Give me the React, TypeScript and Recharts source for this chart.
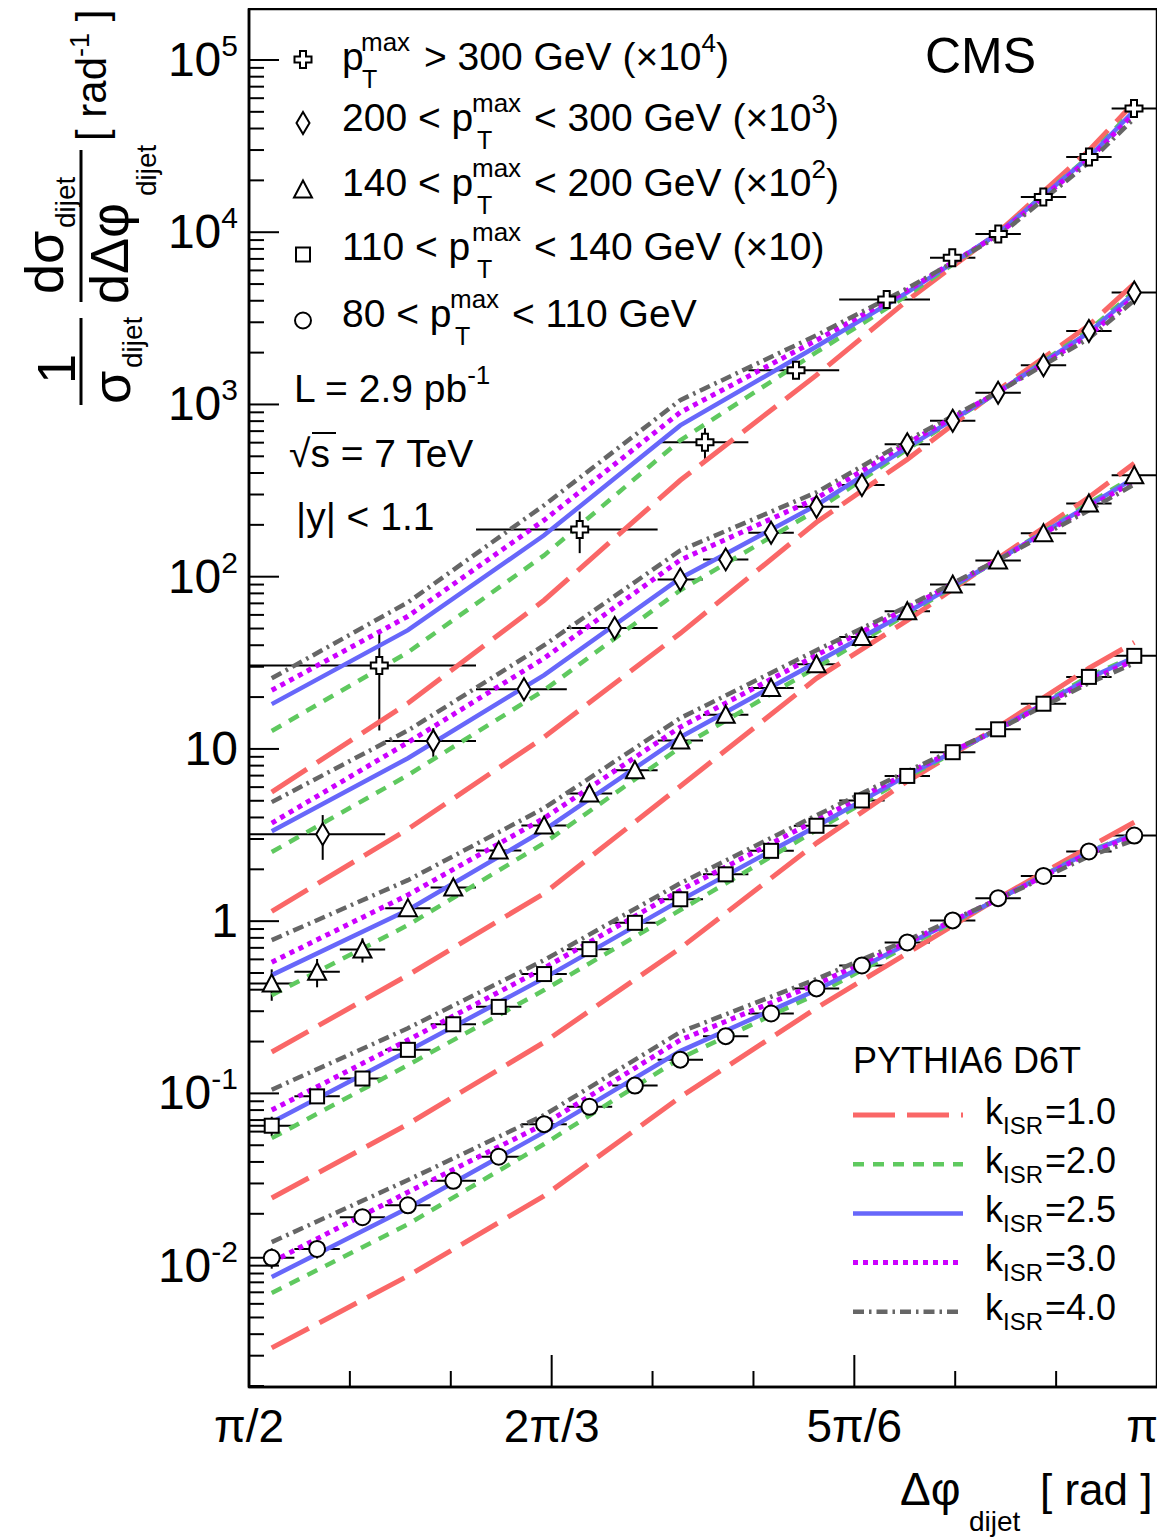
import React from "react";
import { ComposedChart, Scatter, XAxis, YAxis, ErrorBar, ReferenceArea } from "recharts";

const FONT = "'Liberation Sans', Arial, Helvetica, sans-serif";

// Δφ grid (rad): pi/2 .. pi in 20 bins of pi/40
const BIN_EDGES = [
  1.5708, 1.6493, 1.7279, 1.8064, 1.885, 1.9635, 2.042, 2.1206, 2.1991, 2.2777, 2.3562,
  2.4347, 2.5133, 2.5918, 2.6704, 2.7489, 2.8274, 2.906, 2.9845, 3.0631, 3.1416,
];
const BIN_CENTERS = [
  1.6101, 1.6886, 1.7671, 1.8457, 1.9242, 2.0028, 2.0813, 2.1598, 2.2384, 2.3169,
  2.3955, 2.474, 2.5525, 2.6311, 2.7096, 2.7882, 2.8667, 2.9452, 3.0238, 3.1023,
];
const PHI_TICKS = [1.5708, 1.7453, 1.9199, 2.0944, 2.2689, 2.4435, 2.618, 2.7925, 2.9671, 3.1416];
const PHI_LABELS = ["π/2", "", "", "2π/3", "", "", "5π/6", "", "", "π"];

const Y_MIN = 0.001974;
const Y_MAX = 197700;
const Y_MAJOR = [0.01, 0.1, 1, 10, 100, 1000, 10000, 100000];
const Y_LABEL_BASE = ["10", "10", "1", "10", "10", "10", "10", "10"];
const Y_LABEL_EXP = ["-2", "-1", "", "", "2", "3", "4", "5"];

// measured 1/σ dσ/dΔφ (unscaled)
const PT300_PHI = [1.7962, 2.1429, 2.3596, 2.5171, 2.674, 2.7874, 2.867, 2.9449, 3.0239, 3.1018];
const PT300_LO = [1.5708, 1.9635, 2.2777, 2.4347, 2.5918, 2.7489, 2.8274, 2.906, 2.9845, 3.0631];
const PT300_HI = [1.9635, 2.2777, 2.4347, 2.5918, 2.7489, 2.8274, 2.906, 2.9845, 3.0631, 3.1416];
const PT300_Y = [0.00305, 0.0188, 0.0603, 0.158, 0.407, 0.711, 0.975, 1.6, 2.73, 5.23];
const PT300_ERR = [0.00177, 0.0051, 0.0125, 0.006, 0.012, 0.015, 0.02, 0.03, 0.05, 0.08];

const PT200_PHI = [
  1.6983, 1.8896, 2.0465, 2.2034, 2.3169, 2.3955, 2.474, 2.5525, 2.6311, 2.7096, 2.7882,
  2.8667, 2.9452, 3.0238, 3.1023,
];
const PT200_LO = [
  1.5708, 1.8064, 1.9635, 2.1206, 2.2777, 2.3562, 2.4347, 2.5133, 2.5918, 2.6704, 2.7489,
  2.8274, 2.906, 2.9845, 3.0631,
];
const PT200_HI = [
  1.8064, 1.9635, 2.1206, 2.2777, 2.3562, 2.4347, 2.5133, 2.5918, 2.6704, 2.7489, 2.8274,
  2.906, 2.9845, 3.0631, 3.1416,
];
const PT200_Y = [
  0.0032, 0.0111, 0.0222, 0.0504, 0.0962, 0.126, 0.18, 0.255, 0.341, 0.587, 0.805, 1.17,
  1.69, 2.67, 4.47,
];
const PT200_ERR = [
  0.00093, 0.0021, 0.0015, 0.002, 0.003, 0.003, 0.004, 0.005, 0.006, 0.008, 0.01, 0.013,
  0.018, 0.025, 0.04,
];

const PT140_Y = [
  0.00435, 0.00508, 0.00685, 0.0119, 0.0157, 0.0257, 0.0359, 0.0551, 0.0752, 0.112, 0.158,
  0.226, 0.31, 0.447, 0.63, 0.9, 1.24, 1.79, 2.66, 3.88,
];
const PT140_ERR = [
  0.0009, 0.00095, 0.0011, 0.0008, 0.0009, 0.0012, 0.0015, 0.002, 0.0025, 0.003, 0.004,
  0.005, 0.006, 0.008, 0.01, 0.013, 0.016, 0.02, 0.03, 0.04,
];

const PT110_Y = [
  0.00649, 0.00961, 0.0122, 0.0179, 0.0252, 0.0318, 0.0493, 0.0688, 0.0978, 0.134, 0.187,
  0.256, 0.358, 0.502, 0.697, 0.957, 1.3, 1.83, 2.62, 3.47,
];
const PT110_ERR = [
  0.00083, 0.0006, 0.0006, 0.0008, 0.001, 0.0012, 0.0015, 0.002, 0.0025, 0.003, 0.004,
  0.005, 0.006, 0.008, 0.01, 0.012, 0.015, 0.02, 0.025, 0.03,
];

const PT80_Y = [
  0.0111, 0.0125, 0.0191, 0.0224, 0.0311, 0.0429, 0.0663, 0.0836, 0.111, 0.157, 0.215,
  0.291, 0.407, 0.553, 0.752, 1.01, 1.36, 1.83, 2.54, 3.14,
];
const PT80_ERR = [
  0.0015, 0.0015, 0.0012, 0.0012, 0.0012, 0.0015, 0.002, 0.002, 0.002, 0.003, 0.003,
  0.004, 0.005, 0.006, 0.007, 0.008, 0.01, 0.012, 0.015, 0.02,
];

// PYTHIA6 D6T predictions, rows: kISR = 1.0, 2.0, 2.5, 3.0, 4.0
const CURVE_PHI = [1.6101, 1.8457, 2.0813, 2.3169, 2.5525, 2.7096, 2.8667, 3.0238, 3.1023];
const MC_PT300 = [
  [0.000561, 0.00184, 0.0073, 0.0363, 0.148, 0.402, 0.997, 2.98, 5.67],
  [0.00127, 0.00364, 0.0133, 0.0619, 0.201, 0.43, 0.984, 2.75, 5.23],
  [0.00182, 0.00489, 0.0174, 0.0756, 0.217, 0.447, 0.984, 2.72, 5.09],
  [0.00219, 0.00589, 0.0213, 0.09, 0.236, 0.46, 0.971, 2.65, 4.89],
  [0.00257, 0.0071, 0.026, 0.106, 0.252, 0.472, 0.945, 2.54, 4.58],
];
const MC_PT200 = [
  [0.00114, 0.00342, 0.0117, 0.0469, 0.207, 0.48, 1.21, 2.88, 5.04],
  [0.00252, 0.00704, 0.0219, 0.0834, 0.243, 0.549, 1.18, 2.69, 4.53],
  [0.00333, 0.00883, 0.0268, 0.0979, 0.26, 0.564, 1.18, 2.62, 4.41],
  [0.00371, 0.0109, 0.0336, 0.125, 0.285, 0.595, 1.18, 2.52, 4.18],
  [0.00491, 0.0128, 0.04, 0.142, 0.309, 0.619, 1.18, 2.42, 4.02],
];
const MC_PT140 = [
  [0.00174, 0.00486, 0.0145, 0.0607, 0.257, 0.558, 1.28, 2.89, 4.55],
  [0.00372, 0.00948, 0.0284, 0.102, 0.298, 0.605, 1.25, 2.67, 3.83],
  [0.00486, 0.0116, 0.0338, 0.117, 0.319, 0.621, 1.25, 2.6, 3.73],
  [0.00578, 0.0142, 0.0396, 0.134, 0.35, 0.656, 1.25, 2.53, 3.58],
  [0.00776, 0.0173, 0.0453, 0.151, 0.374, 0.673, 1.25, 2.43, 3.44],
];
const MC_PT110 = [
  [0.00247, 0.00663, 0.0198, 0.0697, 0.284, 0.649, 1.34, 2.94, 4.16],
  [0.0055, 0.0146, 0.0398, 0.116, 0.338, 0.685, 1.3, 2.64, 3.45],
  [0.00681, 0.0176, 0.0467, 0.132, 0.356, 0.704, 1.3, 2.57, 3.41],
  [0.008, 0.0204, 0.0534, 0.151, 0.386, 0.723, 1.3, 2.5, 3.27],
  [0.0105, 0.0239, 0.0594, 0.166, 0.412, 0.742, 1.3, 2.41, 3.14],
];
const MC_PT80 = [
  [0.00333, 0.00871, 0.0254, 0.0952, 0.313, 0.652, 1.36, 2.69, 3.75],
  [0.00693, 0.0174, 0.0508, 0.16, 0.377, 0.716, 1.34, 2.55, 3.2],
  [0.00859, 0.0216, 0.0596, 0.176, 0.398, 0.736, 1.34, 2.52, 3.2],
  [0.0105, 0.0267, 0.0663, 0.204, 0.431, 0.755, 1.34, 2.48, 3.11],
  [0.0137, 0.0314, 0.0748, 0.227, 0.461, 0.776, 1.34, 2.38, 2.95],
];

const K_ISR = ["1.0", "2.0", "2.5", "3.0", "4.0"];
const MC_COLORS = ["#fa6767", "#5fc95f", "#6767fa", "#cc00ff", "#666666"];
const MC_DASH = ["42 12", "11 9", "", "5 5", "11 5 2.5 5"];
const MC_WIDTH = [5, 4.5, 4.5, 5, 4.5];

type Kind = "cross" | "diamond" | "triangle" | "square" | "circle";

function Marker({ kind, cx, cy }: { kind: Kind; cx: number; cy: number }) {
  const st = { fill: "#fff", stroke: "#000", strokeWidth: 2 };
  if (kind === "circle") return <circle cx={cx} cy={cy} r={8} {...st} />;
  if (kind === "square") return <rect x={cx - 7} y={cy - 7} width={14} height={14} {...st} />;
  if (kind === "triangle")
    return <polygon points={`${cx},${cy - 9} ${cx + 9},${cy + 8} ${cx - 9},${cy + 8}`} {...st} />;
  if (kind === "diamond")
    return (
      <polygon points={`${cx},${cy - 11} ${cx + 6.5},${cy} ${cx},${cy + 11} ${cx - 6.5},${cy}`} {...st} />
    );
  const a = 3,
    b = 8.5;
  const pts = [
    [-a, -b], [a, -b], [a, -a], [b, -a], [b, a], [a, a],
    [a, b], [-a, b], [-a, a], [-b, a], [-b, -a], [-a, -a],
  ]
    .map(([dx, dy]) => `${cx + dx},${cy + dy}`)
    .join(" ");
  return <polygon points={pts} {...st} />;
}

const SERIES: { kind: Kind; scale: number; phi: number[]; lo: number[]; hi: number[]; y: number[]; err: number[]; mc: number[][] }[] = [
  { kind: "cross", scale: 1e4, phi: PT300_PHI, lo: PT300_LO, hi: PT300_HI, y: PT300_Y, err: PT300_ERR, mc: MC_PT300 },
  { kind: "diamond", scale: 1e3, phi: PT200_PHI, lo: PT200_LO, hi: PT200_HI, y: PT200_Y, err: PT200_ERR, mc: MC_PT200 },
  { kind: "triangle", scale: 1e2, phi: BIN_CENTERS, lo: BIN_EDGES.slice(0, 20), hi: BIN_EDGES.slice(1), y: PT140_Y, err: PT140_ERR, mc: MC_PT140 },
  { kind: "square", scale: 10, phi: BIN_CENTERS, lo: BIN_EDGES.slice(0, 20), hi: BIN_EDGES.slice(1), y: PT110_Y, err: PT110_ERR, mc: MC_PT110 },
  { kind: "circle", scale: 1, phi: BIN_CENTERS, lo: BIN_EDGES.slice(0, 20), hi: BIN_EDGES.slice(1), y: PT80_Y, err: PT80_ERR, mc: MC_PT80 },
];

const Y_TICKS = [0.001, 0.01, 0.1, 1, 10, 100, 1000, 10000, 100000]
  .flatMap((d) => [1, 2, 3, 4, 5, 6, 7, 8, 9].map((m) => +(m * d).toPrecision(3)))
  .filter((v) => v >= Y_MIN && v <= Y_MAX);

function XTick(props: any) {
  const { x, y, payload } = props;
  const i = PHI_TICKS.findIndex((t) => Math.abs(t - payload.value) < 1e-3);
  const label = PHI_LABELS[i] || "";
  const last = i === PHI_TICKS.length - 1;
  return (
    <g>
      <line x1={x} y1={y} x2={x} y2={y - (label ? 32 : 16)} stroke="#000" strokeWidth={2} />
      {label && (
        <text x={last ? x + 1 : x} y={y + 55} textAnchor={last ? "end" : "middle"} fontSize={46} fontFamily={FONT} fill="#000">
          {label}
        </text>
      )}
    </g>
  );
}

function YTick(props: any) {
  const { x, y, payload } = props;
  const i = Y_MAJOR.findIndex((v) => Math.abs(v - payload.value) / v < 1e-6);
  const major = i >= 0;
  return (
    <g>
      <line x1={x} y1={y} x2={x + (major ? 30 : 15)} y2={y} stroke="#000" strokeWidth={2} />
      {major && (
        <text x={x - 11} y={y} dy={16} textAnchor="end" fontSize={48} fontFamily={FONT} fill="#000">
          {Y_LABEL_BASE[i]}
          {Y_LABEL_EXP[i] && (
            <tspan dy={-20} fontSize={30}>
              {Y_LABEL_EXP[i]}
            </tspan>
          )}
        </text>
      )}
    </g>
  );
}

function RotText({ sx, sy, size, children }: { sx: number; sy: number; size: number; children: React.ReactNode }) {
  return (
    <text transform={`translate(${sx},${sy}) rotate(-90)`} fontSize={size}>
      {children}
    </text>
  );
}

const LEGEND_ROWS = [
  { kind: "cross" as Kind, my: 59.5, base: 70, lead: "", leadX: 342, supX: 361, subX: 362, tail: "> 300 GeV (×10", exp: "4", close: ")", tailX: 424 },
  { kind: "diamond" as Kind, my: 123, base: 131, lead: "200 < p", leadX: 342, supX: 472, subX: 477, tail: "< 300 GeV (×10", exp: "3", close: ")", tailX: 534 },
  { kind: "triangle" as Kind, my: 189.5, base: 196, lead: "140 < p", leadX: 342, supX: 472, subX: 477, tail: "< 200 GeV (×10", exp: "2", close: ")", tailX: 534 },
  { kind: "square" as Kind, my: 254.5, base: 260, lead: "110 < p", leadX: 342, supX: 472, subX: 477, tail: "< 140 GeV (×10)", exp: "", close: "", tailX: 534 },
  { kind: "circle" as Kind, my: 320.5, base: 327, lead: "80 < p", leadX: 342, supX: 450, subX: 455, tail: "< 110 GeV", exp: "", close: "", tailX: 512 },
];

function Overlay() {
  return (
    <svg width={1157} height={1532} style={{ position: "absolute", left: 0, top: 0, pointerEvents: "none" }}>
      <g transform="translate(-8,-8)" fontFamily={FONT} fill="#000">
        {LEGEND_ROWS.map((r, i) => (
          <g key={i}>
            <Marker kind={r.kind} cx={303} cy={r.my} />
            <text x={r.leadX} y={r.base} fontSize={39}>
              {r.lead || "p"}
            </text>
            <text x={r.supX} y={r.base - 19} fontSize={26}>
              max
            </text>
            <text x={r.subX} y={r.base + 18} fontSize={25}>
              T
            </text>
            <text x={r.tailX} y={r.base} fontSize={39}>
              {r.tail}
              {r.exp && (
                <tspan dy={-18} fontSize={26}>
                  {r.exp}
                </tspan>
              )}
              {r.close && <tspan dy={r.exp ? 18 : 0}>{r.close}</tspan>}
            </text>
          </g>
        ))}
        <text x={294} y={402} fontSize={39}>
          L = 2.9 pb<tspan dy={-18} fontSize={26}>-1</tspan>
        </text>
        <text x={289} y={467} fontSize={39}>
          √s = 7 TeV
        </text>
        <line x1={312} y1={433} x2={336} y2={433} stroke="#000" strokeWidth={2} />
        <text x={296} y={530} fontSize={39}>
          |y| &lt; 1.1
        </text>
        <text x={925} y={73} fontSize={50}>
          CMS
        </text>

        <text x={853} y={1073} fontSize={36}>
          PYTHIA6 D6T
        </text>
        {K_ISR.map((k, i) => {
          const ly = 1115 + i * 49.2;
          return (
            <g key={k}>
              <line
                x1={853}
                y1={ly}
                x2={963}
                y2={ly}
                stroke={MC_COLORS[i]}
                strokeWidth={MC_WIDTH[i]}
                strokeDasharray={MC_DASH[i] || undefined}
              />
              <text x={985} y={ly + 8.5} fontSize={36}>
                k
              </text>
              <text x={1003} y={ly + 18.5} fontSize={24}>
                ISR
              </text>
              <text x={1045} y={ly + 8.5} fontSize={36}>
                ={k}
              </text>
            </g>
          );
        })}

        {/* y title */}
        <RotText sx={75} sy={384} size={54}>
          1
        </RotText>
        <line x1={81} y1={318} x2={81} y2={405} stroke="#000" strokeWidth={3} />
        <RotText sx={130} sy={404} size={54}>
          σ
        </RotText>
        <RotText sx={142} sy={368} size={28}>
          dijet
        </RotText>
        <RotText sx={63} sy={294} size={54}>
          dσ
        </RotText>
        <RotText sx={75} sy={228} size={28}>
          dijet
        </RotText>
        <line x1={81} y1={150} x2={81} y2={302} stroke="#000" strokeWidth={3} />
        <RotText sx={128} sy={304} size={54}>
          dΔφ
        </RotText>
        <RotText sx={156} sy={196} size={28}>
          dijet
        </RotText>
        <RotText sx={106} sy={141} size={42}>
          [ rad<tspan dy={-17} fontSize={27}>-1</tspan>
          <tspan dy={17}> ]</tspan>
        </RotText>

        {/* x title */}
        <text x={900} y={1505} fontSize={46}>
          Δφ
        </text>
        <text x={969} y={1531} fontSize={28}>
          dijet
        </text>
        <text x={1040} y={1505} fontSize={44}>
          [ rad ]
        </text>
      </g>
    </svg>
  );
}

export default function App() {
  return (
    <div style={{ position: "relative", width: 1157, height: 1532, background: "#fff" }}>
      <ComposedChart width={1157} height={1532} margin={{ top: 1, right: 8, bottom: 93, left: 141 }}>
        <XAxis
          dataKey="x"
          type="number"
          domain={[Math.PI / 2, Math.PI]}
          allowDataOverflow
          ticks={PHI_TICKS}
          interval={0}
          tick={<XTick />}
          tickLine={false}
          tickSize={0}
          tickMargin={0}
          height={60}
          axisLine={{ stroke: "#000", strokeWidth: 2.5 }}
        />
        <YAxis
          dataKey="y"
          type="number"
          scale="log"
          domain={[Y_MIN, Y_MAX]}
          allowDataOverflow
          ticks={Y_TICKS}
          interval={0}
          tick={<YTick />}
          tickLine={false}
          tickSize={0}
          tickMargin={0}
          width={100}
          axisLine={{ stroke: "#000", strokeWidth: 2.5 }}
        />
        <ReferenceArea
          x1={Math.PI / 2}
          x2={Math.PI}
          y1={Y_MIN}
          y2={Y_MAX}
          fill="none"
          fillOpacity={0}
          stroke="#000"
          strokeWidth={2.5}
          ifOverflow="visible"
        />
        {SERIES.flatMap((s, si) =>
          s.mc.map((vals, k) => (
            <Scatter
              key={`mc-${si}-${k}`}
              data={CURVE_PHI.map((x, j) => ({ x, y: vals[j] * s.scale }))}
              dataKey="y"
              fill={MC_COLORS[k]}
              line={{
                stroke: MC_COLORS[k],
                strokeWidth: MC_WIDTH[k],
                strokeDasharray: MC_DASH[k] || undefined,
              }}
              shape={() => <g />}
              isAnimationActive={false}
              legendType="none"
            />
          ))
        )}
        {SERIES.map((s, si) => (
          <Scatter
            key={`data-${si}`}
            data={s.phi.map((x, j) => ({
              x,
              y: s.y[j] * s.scale,
              ex: [x - s.lo[j], s.hi[j] - x],
              ey: s.err[j] * s.scale,
            }))}
            dataKey="y"
            fill="#fff"
            shape={(p: any) => <Marker kind={s.kind} cx={p.cx} cy={p.cy} />}
            isAnimationActive={false}
            legendType="none"
          >
            <ErrorBar dataKey="ex" direction="x" width={0} stroke="#000" strokeWidth={2} isAnimationActive={false} />
            <ErrorBar dataKey="ey" direction="y" width={0} stroke="#000" strokeWidth={2} isAnimationActive={false} />
          </Scatter>
        ))}
      </ComposedChart>
      <Overlay />
    </div>
  );
}
